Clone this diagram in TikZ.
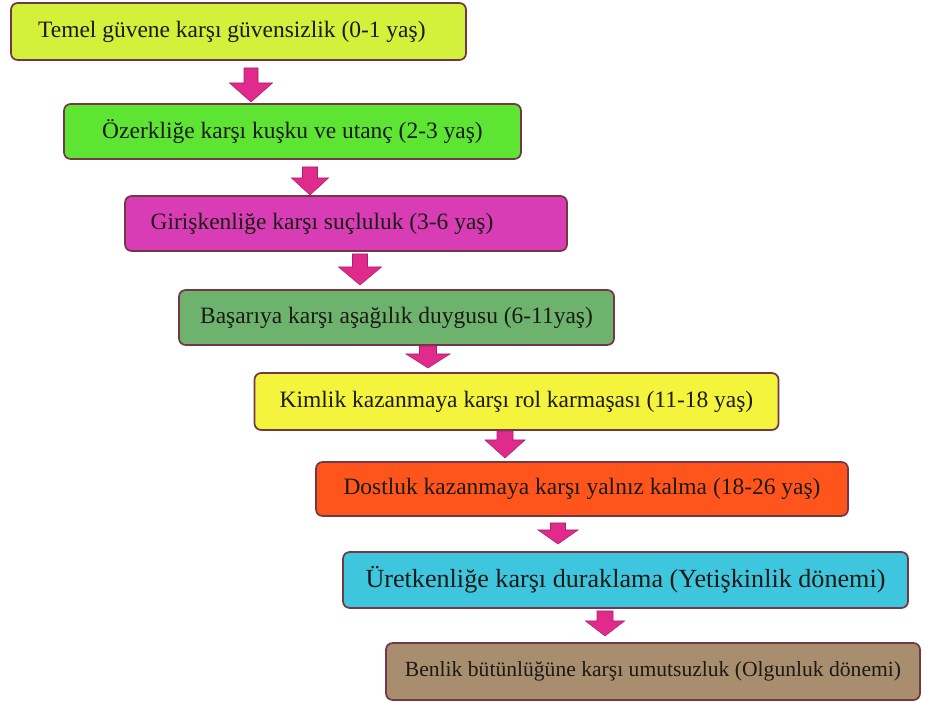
\documentclass[tikz,border=0pt]{standalone}
\usepackage{fontspec}
\setmainfont{Liberation Serif}
\usetikzlibrary{calc}
\definecolor{cA}{HTML}{D3F03A}
\definecolor{cB}{HTML}{5EE433}
\definecolor{cC}{HTML}{D83DB5}
\definecolor{cD}{HTML}{6DB36E}
\definecolor{cE}{HTML}{F4F43C}
\definecolor{cF}{HTML}{FF551C}
\definecolor{cG}{HTML}{3EC6DF}
\definecolor{cH}{HTML}{A88E6E}
\definecolor{bordc}{HTML}{743845}
\definecolor{arrf}{HTML}{E02A8C}
\definecolor{arrd}{HTML}{A8206A}
\definecolor{txtc}{HTML}{1C1A14}
\newcommand\blkarrow[5]{% start, end, head length, shaft half, head half
  \filldraw[arrowstyle] ($(#1)+(-#4,0)$) -- ($(#1)+(#4,0)$) -- ($(#2)+(#4,-#3)$) -- ($(#2)+(#5,-#3)$) -- (#2) -- ($(#2)+(-#5,-#3)$) -- ($(#2)+(-#4,-#3)$) -- cycle;}
\begin{document}
\begin{tikzpicture}[x=0.75pt,y=-0.75pt,
  box/.style={draw=bordc, line width=1.3pt, rounded corners=5pt, inner sep=0pt, text=txtc,
    font=\fontsize{17.6}{20}\selectfont},
  arrowstyle/.style={fill=arrf, draw=arrd, line width=0.4pt, line join=miter}]
\useasboundingbox (0,0) rectangle (926,702);
\fill[white] (0,0) rectangle (926,702);
\node[box, fill=cA, minimum width=455*0.75pt, minimum height=57*0.75pt] (b1) at (238.5,31.5) {\hspace*{-10pt}Temel güvene karşı güvensizlik (0-1 yaş)};
\node[box, fill=cB, minimum width=457*0.75pt, minimum height=55*0.75pt] (b2) at (292.5,131.5) {Özerkliğe karşı kuşku ve utanç (2-3 yaş)};
\node[box, fill=cC, minimum width=442*0.75pt, minimum height=55*0.75pt] (b3) at (346,223.5) {\hspace*{-36pt}Girişkenliğe karşı suçluluk (3-6 yaş)};
\node[box, fill=cD, minimum width=435*0.75pt, minimum height=55*0.75pt] (b4) at (396.5,317.5) {Başarıya karşı aşağılık duygusu (6-11yaş)};
\node[box, fill=cE, minimum width=524*0.75pt, minimum height=57*0.75pt] (b5) at (516.5,401.5) {Kimlik kazanmaya karşı rol karmaşası (11-18 yaş)};
\node[box, fill=cF, minimum width=532*0.75pt, minimum height=54*0.75pt] (b6) at (582,489) {Dostluk kazanmaya karşı yalnız kalma (18-26 yaş)};
\node[box, fill=cG, minimum width=565*0.75pt, minimum height=56*0.75pt, font=\fontsize{19.6}{22}\selectfont] (b7) at (625.5,580) {Üretkenliğe karşı duraklama (Yetişkinlik dönemi)};
\node[box, fill=cH, minimum width=534*0.75pt, minimum height=57*0.75pt, font=\fontsize{16.2}{20}\selectfont] (b8) at (653,671.5) {Benlik bütünlüğüne karşı umutsuzluk (Olgunluk dönemi)};
% arrow end points
\coordinate (a1s) at (251,68);  \coordinate (a1e) at (251,102);
\coordinate (a2s) at (310,167); \coordinate (a2e) at (310,195);
\coordinate (a3s) at (360,254); \coordinate (a3e) at (360,285);
\coordinate (a4s) at (428,346); \coordinate (a4e) at (428,368);
\coordinate (a5s) at (505,431); \coordinate (a5e) at (505,458);
\coordinate (a6s) at (558,523); \coordinate (a6e) at (558,544);
\coordinate (a7s) at (605,611); \coordinate (a7e) at (605,636);
\blkarrow{a1s}{a1e}{19}{7}{21.5}
\blkarrow{a2s}{a2e}{17}{7.5}{18.5}
\blkarrow{a3s}{a3e}{18}{7.5}{21.5}
\blkarrow{a4s}{a4e}{14}{8.5}{22}
\blkarrow{a5s}{a5e}{18}{8}{20}
\blkarrow{a6s}{a6e}{14}{7.5}{20}
\blkarrow{a7s}{a7e}{15}{8}{19.5}
\end{tikzpicture}
\end{document}
